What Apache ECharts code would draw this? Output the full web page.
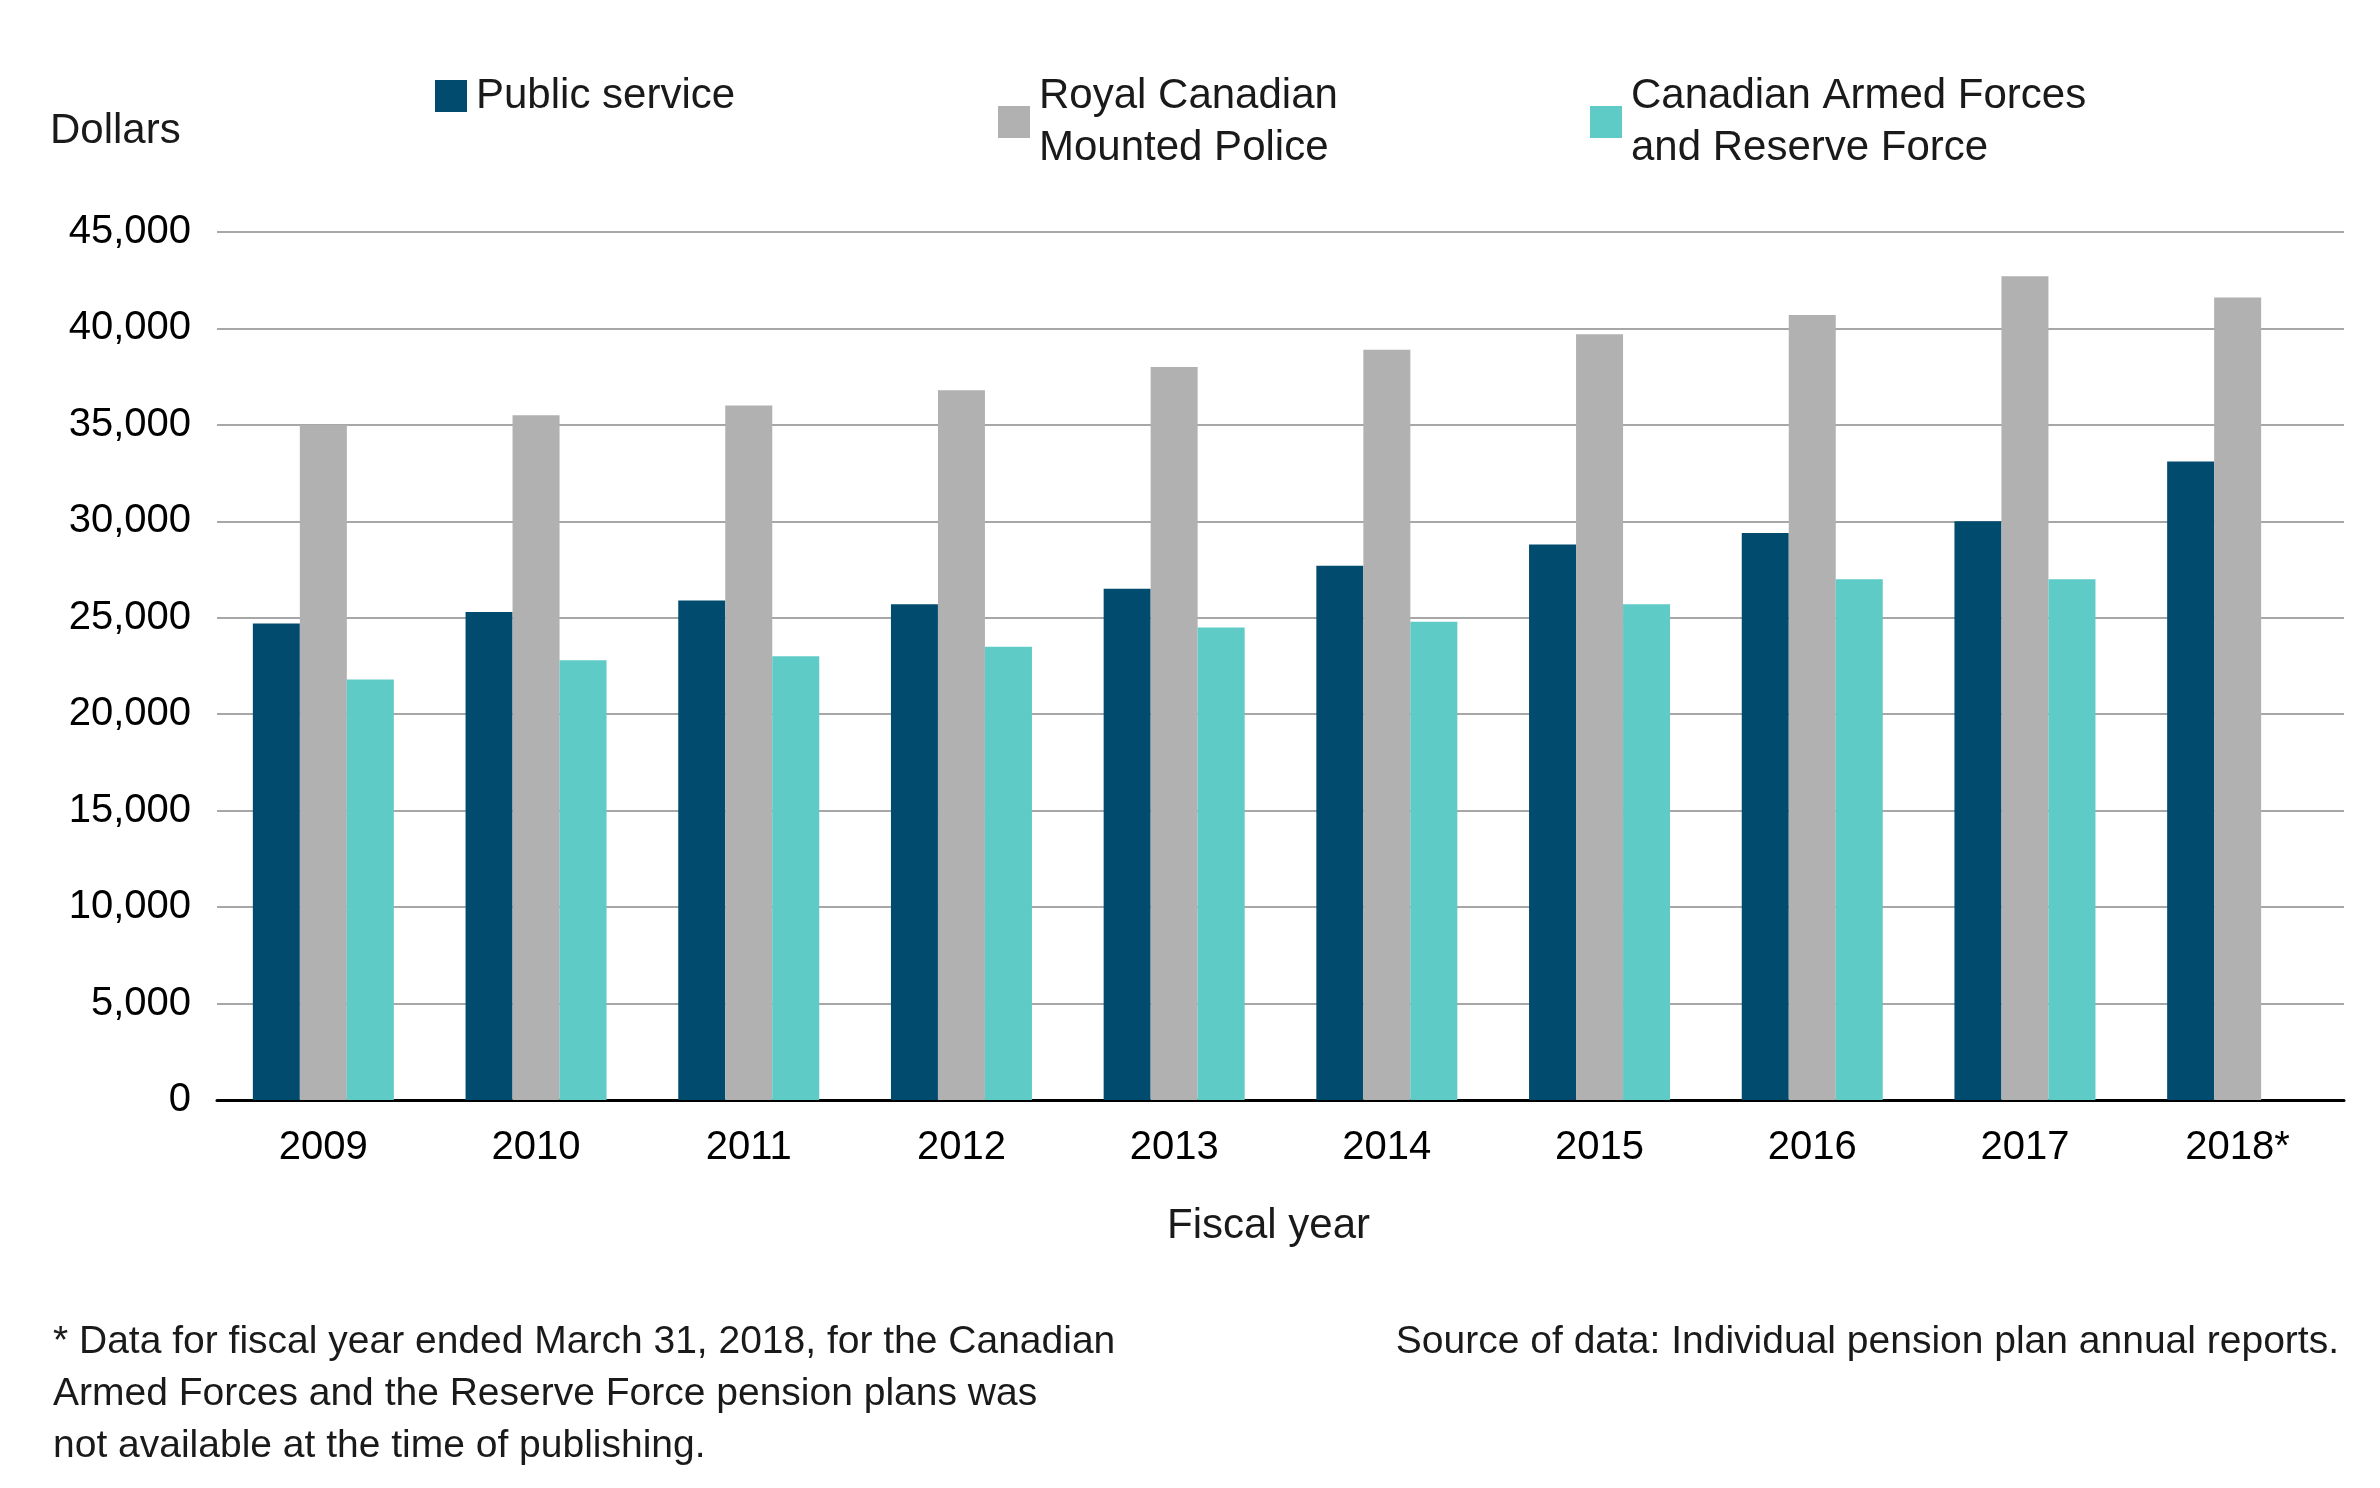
<!DOCTYPE html>
<html>
<head>
    <meta charset="utf-8" />
    <script src="https://cdn.jsdelivr.net/npm/echarts@6/dist/echarts.min.js"></script>
    <style>html,body{margin:0;padding:0;background:#fff;}</style>
</head>
<body>
    <div id="main" style="width:2380px;height:1488px;"></div>
    <script type="text/javascript">
        var years = ['2009', '2010', '2011', '2012', '2013', '2014', '2015', '2016', '2017', '2018*'];
        var publicService = [24700, 25300, 25900, 25700, 26500, 27700, 28800, 29400, 30000, 33100];
        var rcmp = [35000, 35500, 36000, 36800, 38000, 38900, 39700, 40700, 42700, 41600];
        var caf = [21800, 22800, 23000, 23500, 24500, 24800, 25700, 27000, 27000, null];

        var font = 'Liberation Sans';
        var chart = echarts.init(document.getElementById('main'));

        function legendAt(name, left) {
            return {
                data: [name], left: left, top: 54, itemWidth: 32, itemHeight: 32, itemGap: 0,
                icon: 'rect', selectedMode: false,
                textStyle: { fontFamily: font, fontSize: 42, color: '#1a1a1a', lineHeight: 52, padding: [22, 0, 0, 4] }
            };
        }

        chart.setOption({
            animation: false,
            textStyle: { fontFamily: font },
            legend: [
                legendAt('Public service', 430),
                legendAt('Royal Canadian\nMounted Police', 993),
                legendAt('Canadian Armed Forces\nand Reserve Force', 1585)
            ],
            grid: { left: 217, right: 36, top: 232, bottom: 388 },
            xAxis: {
                type: 'category', data: years,
                axisLine: { lineStyle: { color: '#000', width: 3 } },
                axisTick: { show: false },
                axisLabel: { fontSize: 40, color: '#000', margin: 28 }
            },
            yAxis: {
                type: 'value', min: 0, max: 45000, interval: 5000,
                axisLine: { show: false }, axisTick: { show: false },
                splitLine: { lineStyle: { color: '#8a8a8a', width: 1.5 } },
                axisLabel: {
                    fontSize: 40, color: '#000', margin: 26,
                    formatter: function (v) { return v.toLocaleString('en-US'); }
                }
            },
            series: [
                { name: 'Public service', type: 'bar', data: publicService, barWidth: 47, barGap: '0%', itemStyle: { color: '#004b6e' } },
                { name: 'Royal Canadian\nMounted Police', type: 'bar', data: rcmp, barWidth: 47, barGap: '0%', itemStyle: { color: '#b1b1b1' } },
                { name: 'Canadian Armed Forces\nand Reserve Force', type: 'bar', data: caf, barWidth: 47, barGap: '0%', itemStyle: { color: '#5ecbc6' } }
            ],
            graphic: [
                { type: 'text', left: 50, top: 110, style: { text: 'Dollars', fontFamily: font, fontSize: 42, fill: '#1a1a1a' } },
                { type: 'text', left: 1167, top: 1205, style: { text: 'Fiscal year', fontFamily: font, fontSize: 42, fill: '#1a1a1a' } },
                { type: 'text', left: 53, top: 1316, style: {
                    text: '* Data for fiscal year ended March 31, 2018, for the Canadian\nArmed Forces and the Reserve Force pension plans was\nnot available at the time of publishing.',
                    fontFamily: font, fontSize: 39, lineHeight: 52, fill: '#1a1a1a' } },
                { type: 'text', right: 41, top: 1316, style: {
                    text: 'Source of data: Individual pension plan annual reports.',
                    fontFamily: font, fontSize: 39, lineHeight: 52, fill: '#1a1a1a' } }
            ]
        });
    </script>
</body>
</html>
